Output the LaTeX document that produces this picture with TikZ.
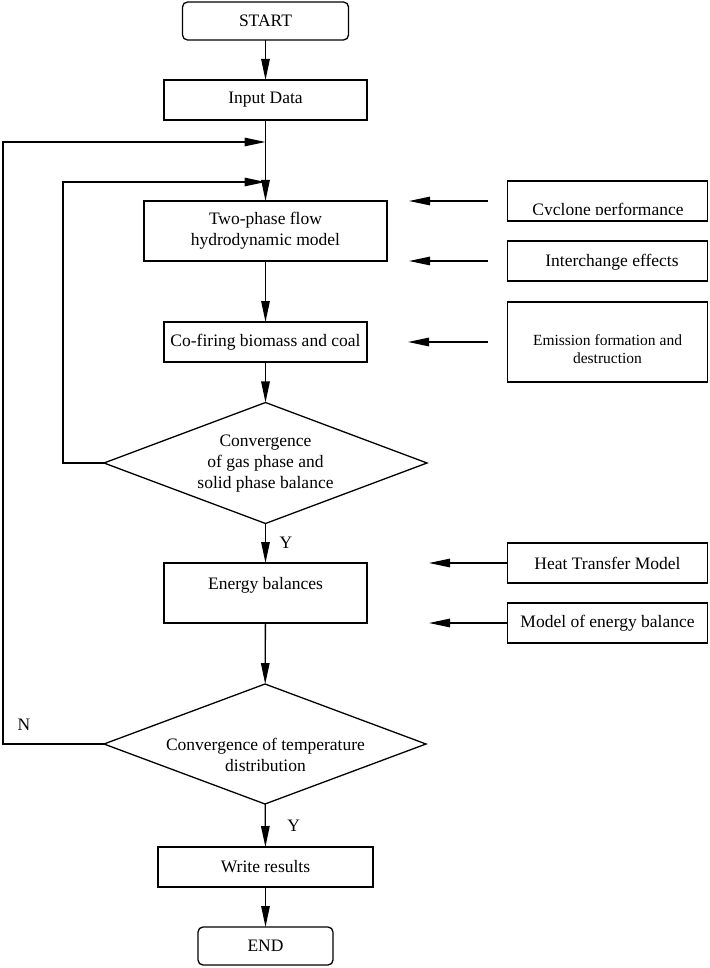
\documentclass[tikz,border=0pt]{standalone}
\usepackage{fontspec}
\setmainfont{Liberation Serif}
\usetikzlibrary{shapes.geometric,arrows.meta}
\begin{document}
\begin{tikzpicture}[x=1pt,y=-1pt,
  every node/.style={font=\fontsize{17.5}{21}\selectfont, inner sep=0pt, outer sep=0pt, align=center},
  box/.style={draw, rectangle, line width=1.3pt},
  term/.style={draw, rectangle, rounded corners=5pt, line width=1.3pt},
  dia/.style={draw, diamond, line width=1.3pt},
  arr/.style={-{Triangle[length=21pt,width=8.5pt]}, line width=1.3pt}]
\useasboundingbox (0,0) rectangle (709,968);

% main column
\node[term, minimum width=166pt, minimum height=38pt] (start) at (265.5,21) {START};
\node[box, minimum width=203pt, minimum height=40pt] (inp) at (265.5,100) {Input Data};
\node[box, minimum width=243pt, minimum height=60pt] (tp) at (265.5,231) {Two-phase flow\\hydrodynamic model};
\node[box, minimum width=203pt, minimum height=40pt] (cof) at (265.5,342) {Co-firing biomass and coal};
\node[dia, minimum width=323pt, minimum height=121pt] (d1) at (265.5,463) {};
\node (d1t) at (265.5,464) {Convergence\\of gas phase and\\solid phase balance};
\node[box, minimum width=203pt, minimum height=60pt] (en) at (265.5,593) {};
\node (ent) at (265.5,585) {Energy balances};
\node[dia, minimum width=322pt, minimum height=120pt] (d2) at (265,744) {};
\node (d2t) at (265.5,755) {Convergence of temperature\\distribution};
\node[box, minimum width=215pt, minimum height=40pt] (wr) at (265.5,867) {Write results};
\node[term, minimum width=135pt, minimum height=38pt] (endn) at (265.5,946) {END};

% right column
\node[box, minimum width=200pt, minimum height=40pt] (cyc) at (607.5,201) {};
\begin{scope}
\clip (508,182) rectangle (707,214.3);
\node[anchor=base] (cyct) at (608,216) {Cyclone performance};
\end{scope}
\node[box, minimum width=200pt, minimum height=40pt] (inter) at (607.5,261) {};
\node (intert) at (612,262) {Interchange effects};
\node[box, minimum width=200pt, minimum height=80pt] (emis) at (607.5,342) {};
\node[font=\fontsize{15.5}{18}\selectfont] (emist) at (607.5,349) {Emission formation and\\destruction};
\node[box, minimum width=200pt, minimum height=40pt] (heat) at (607.5,563) {Heat Transfer Model};
\node[box, minimum width=200pt, minimum height=40pt] (model) at (607.5,623) {Model of energy balance};

% junction points
\coordinate (j1) at (265.5,142);
\coordinate (j2) at (265.5,182);

% main flow
\draw[arr] (start) -- (inp);
\draw[arr] (inp) -- (tp);
\draw[arr] (tp) -- (cof);
\draw[arr] (cof) -- (d1);
\draw[arr] (d1) -- node[right=14pt, pos=0.5] (y1) {Y} (en);
\draw[arr] (en) -- (d2);
\draw[arr] (d2) -- node[right=22pt, pos=0.5] (y2) {Y} (wr);
\draw[arr] (wr) -- (endn);

% loops
\draw[arr] (d1.west) -- ++(-41,0) |- (j2);
\draw[arr] (d2.west) -- ++(-101,0) |- (j1);
\node (nlab) at (24,725) {N};

% side inputs
\draw[arr, shorten <=19.5pt, shorten >=22pt] (cyc.west) -- (tp.north east);
\draw[arr, shorten <=19.5pt, shorten >=22pt] (inter.west) -- (tp.south east);
\draw[arr, shorten <=19.5pt, shorten >=41pt] (emis.west) -- (cof.east);
\draw[arr, shorten >=62pt] (heat.west) -- (en.north east);
\draw[arr, shorten >=62pt] (model.west) -- (en.south east);
\end{tikzpicture}
\end{document}
